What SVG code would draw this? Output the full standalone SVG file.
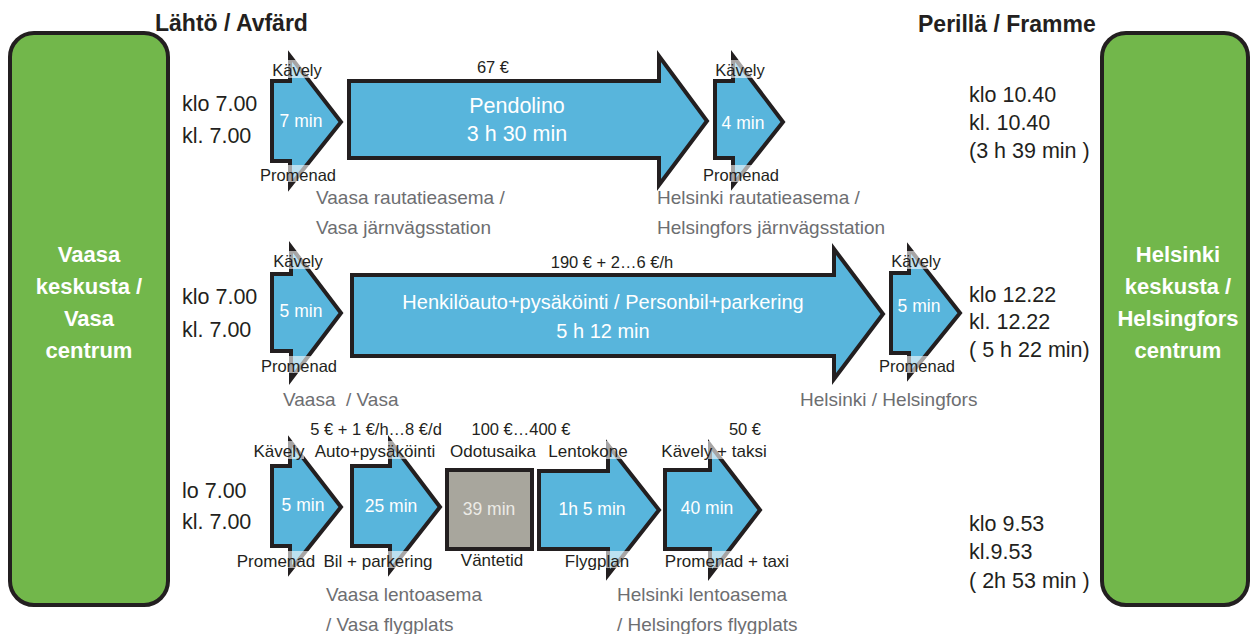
<svg xmlns="http://www.w3.org/2000/svg" width="1251" height="634" viewBox="0 0 1251 634">
<style>
.bg{fill:#ffffff}
.green{fill:#72b74b;stroke:#231f20;stroke-width:4}
.arr{fill:#58b5dc;stroke:#231f20;stroke-width:4;stroke-miterlimit:10}
.wait{fill:#a8a69d;stroke:#231f20;stroke-width:4}
.veil{fill:#ffffff;opacity:0.6}
text{font-family:"Liberation Sans",Arial,sans-serif}
.hdr{font-size:23px;font-weight:bold;fill:#231f20}
.place{font-size:22px;font-weight:bold;fill:#ffffff;text-anchor:middle}
.time{font-size:21.5px;fill:#231f20}
.lbl{font-size:16.5px;fill:#231f20;text-anchor:middle}
.lbl2{font-size:17px;fill:#231f20;text-anchor:middle}
.price{font-size:16.5px;fill:#231f20;text-anchor:middle}
.dur{font-size:17.5px;fill:#ffffff;text-anchor:middle}
.big{font-size:21.5px;fill:#ffffff;text-anchor:middle}
.car{font-size:20px;fill:#ffffff;text-anchor:middle}
.stn{font-size:19px;fill:#6d6e71;white-space:pre}
</style>
<rect class="bg" x="0" y="0" width="1251" height="634"/>

<g id="headers">
<text class="hdr" x="155" y="31">Lähtö / Avfärd</text>
<text class="hdr" x="918" y="32">Perillä / Framme</text>
</g>

<g id="node-vaasa">
<rect class="green" x="10" y="33" width="158" height="572" rx="24"/>
<text class="place" x="89" y="262">Vaasa</text>
<text class="place" x="89" y="294">keskusta /</text>
<text class="place" x="89" y="326">Vasa</text>
<text class="place" x="89" y="358">centrum</text>
</g>

<g id="node-helsinki">
<rect class="green" x="1102" y="33" width="146" height="572" rx="24"/>
<text class="place" x="1178" y="262">Helsinki</text>
<text class="place" x="1178" y="294">keskusta /</text>
<text class="place" x="1178" y="326">Helsingfors</text>
<text class="place" x="1178" y="358">centrum</text>
</g>

<g id="connectors"></g>

<!-- Row 1: train -->
<g id="row1-times">
<text class="time" x="182" y="111">klo 7.00</text>
<text class="time" x="182" y="143">kl. 7.00</text>
<text class="time" x="969" y="102">klo 10.40</text>
<text class="time" x="969" y="130">kl. 10.40</text>
<text class="time" x="969" y="158">(3 h 39 min )</text>
</g>
<g id="row1-walk1">
<path class="arr" d="M272,81 H290 V56 L341,122 L290,186 V161 H272 Z"/>
<text class="dur" x="301" y="127">7 min</text>
<rect class="veil" x="272" y="60" width="51" height="18"/>
<rect class="veil" x="259" y="165" width="78" height="17"/>
<text class="lbl" x="297" y="76">Kävely</text>
<text class="lbl" x="298" y="181">Promenad</text>
</g>
<g id="row1-train">
<path class="arr" d="M349,81 H659 V56 L707,121 L659,185 V158 H349 Z"/>
<text class="price" x="493" y="73">67 €</text>
<text class="big" x="517" y="113">Pendolino</text>
<text class="big" x="517" y="141">3 h 30 min</text>
</g>
<g id="row1-walk2">
<path class="arr" d="M715,81 H733 V56 L783,122 L733,185 V158 H715 Z"/>
<text class="dur" x="743" y="129">4 min</text>
<rect class="veil" x="716" y="60" width="51" height="18"/>
<rect class="veil" x="702" y="165" width="78" height="17"/>
<text class="lbl" x="740" y="76">Kävely</text>
<text class="lbl" x="741" y="181">Promenad</text>
</g>
<g id="row1-stations">
<text class="stn" x="316" y="204">Vaasa rautatieasema /</text>
<text class="stn" x="316" y="234">Vasa järnvägsstation</text>
<text class="stn" x="657" y="204">Helsinki rautatieasema /</text>
<text class="stn" x="657" y="234">Helsingfors järnvägsstation</text>
</g>

<!-- Row 2: car -->
<g id="row2-times">
<text class="time" x="182" y="304">klo 7.00</text>
<text class="time" x="182" y="337">kl. 7.00</text>
<text class="time" x="969" y="302">klo 12.22</text>
<text class="time" x="969" y="329">kl. 12.22</text>
<text class="time" x="969" y="357">( 5 h 22 min)</text>
</g>
<g id="row2-walk1">
<path class="arr" d="M272,274 H291 V247 L341,313 L291,379 V351 H272 Z"/>
<text class="dur" x="301" y="317">5 min</text>
<rect class="veil" x="273" y="251" width="51" height="18"/>
<rect class="veil" x="260" y="356" width="78" height="17"/>
<text class="lbl" x="298" y="267">Kävely</text>
<text class="lbl" x="299" y="372">Promenad</text>
</g>
<g id="row2-car">
<path class="arr" d="M352,275 H834 V249 L883,314 L834,379 V356 H352 Z"/>
<text class="price" x="612" y="268">190 € + 2…6 €/h</text>
<text class="car" x="603" y="309">Henkilöauto+pysäköinti / Personbil+parkering</text>
<text class="car" x="603" y="338">5 h 12 min</text>
</g>
<g id="row2-walk2">
<path class="arr" d="M891,273 H909 V248 L960,313 L909,376 V353 H891 Z"/>
<text class="dur" x="919" y="312">5 min</text>
<rect class="veil" x="891" y="251" width="51" height="18"/>
<rect class="veil" x="878" y="356" width="78" height="17"/>
<text class="lbl" x="916" y="267">Kävely</text>
<text class="lbl" x="917" y="372">Promenad</text>
</g>
<g id="row2-stations">
<text class="stn" x="283" y="406">Vaasa  / Vasa</text>
<text class="stn" x="800" y="406">Helsinki / Helsingfors</text>
</g>

<!-- Row 3: flight -->
<g id="row3-times">
<text class="time" x="182" y="498">lo 7.00</text>
<text class="time" x="182" y="529">kl. 7.00</text>
<text class="time" x="969" y="531">klo 9.53</text>
<text class="time" x="969" y="559">kl.9.53</text>
<text class="time" x="969" y="588">( 2h 53 min )</text>
</g>
<g id="row3-walk">
<path class="arr" d="M272,466 H290 V441 L341,507 L290,571 V546 H272 Z"/>
<text class="dur" x="303" y="511">5 min</text>
<rect class="veil" x="255" y="441" width="49" height="18"/>
<rect class="veil" x="237" y="551" width="79" height="17"/>
<text class="lbl2" x="279" y="457">Kävely</text>
<text class="lbl2" x="276" y="567">Promenad</text>
</g>
<g id="row3-drive">
<path class="arr" d="M352,466 H390 V441 L440,507 L390,571 V546 H352 Z"/>
<text class="dur" x="391" y="512">25 min</text>
<text class="price" x="376" y="435">5 € + 1 €/h…8 €/d</text>
<rect class="veil" x="314" y="441" width="123" height="18"/>
<rect class="veil" x="323" y="551" width="110" height="17"/>
<text class="lbl2" x="375" y="457">Auto+pysäköinti</text>
<text class="lbl2" x="378" y="567">Bil + parkering</text>
</g>
<g id="row3-wait">
<rect class="wait" x="447" y="470" width="85" height="79"/>
<text class="dur" x="489" y="515" style="fill:#ecebe6">39 min</text>
<text class="price" x="521" y="435">100 €…400 €</text>
<text class="lbl2" x="493" y="457">Odotusaika</text>
<text class="lbl2" x="492" y="566">Väntetid</text>
</g>
<g id="row3-flight">
<path class="arr" d="M539,471 H608 V445 L659,510 L608,575 V549 H539 Z"/>
<text class="dur" x="592" y="515">1h 5 min</text>
<rect class="veil" x="548" y="441" width="80" height="18"/>
<rect class="veil" x="565" y="551" width="65" height="17"/>
<text class="lbl2" x="588" y="457">Lentokone</text>
<text class="lbl2" x="597" y="567">Flygplan</text>
</g>
<g id="row3-taxi">
<path class="arr" d="M665,470 H710 V445 L760,510 L710,575 V549 H665 Z"/>
<text class="dur" x="707" y="514">40 min</text>
<text class="price" x="745" y="435">50 €</text>
<rect class="veil" x="663" y="441" width="103" height="18"/>
<rect class="veil" x="663" y="551" width="127" height="17"/>
<text class="lbl2" x="714" y="457">Kävely + taksi</text>
<text class="lbl2" x="727" y="567">Promenad + taxi</text>
</g>
<g id="row3-stations">
<text class="stn" x="326" y="601">Vaasa lentoasema</text>
<text class="stn" x="326" y="631">/ Vasa flygplats</text>
<text class="stn" x="617" y="601">Helsinki lentoasema</text>
<text class="stn" x="617" y="631">/ Helsingfors flygplats</text>
</g>
</svg>
